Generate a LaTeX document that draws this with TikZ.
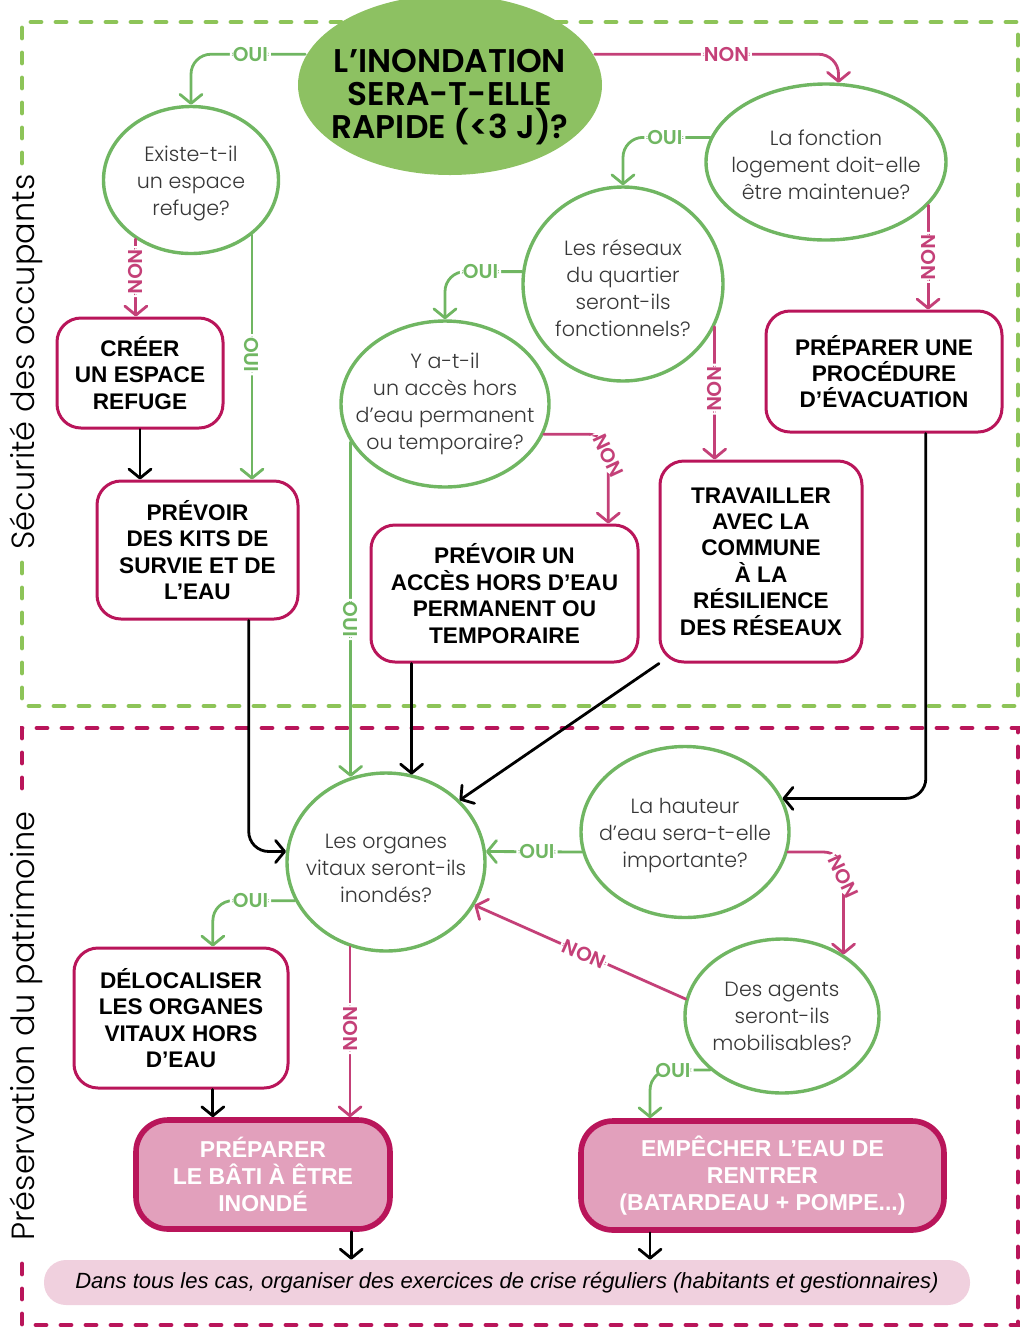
\documentclass[tikz,border=0pt]{standalone}
\usepackage{fontspec}
\usepackage{xcolor}
\setmainfont{Poppins}
\newfontfamily\legerfont{Poppins Light}
\newfontfamily\demifont{Poppins SemiBold}
\newfontfamily\boxfont{Liberation Sans}
\usetikzlibrary{shapes.geometric, arrows.meta}

\definecolor{vertcadre}{RGB}{141,196,88}
\definecolor{vertrond}{RGB}{112,182,98}
\definecolor{vertdepart}{RGB}{141,193,98}
\definecolor{framboise}{RGB}{185,21,90}
\definecolor{rosenon}{RGB}{196,64,120}
\definecolor{rosebox}{RGB}{226,160,188}
\definecolor{rosepale}{RGB}{240,208,222}
\definecolor{gristexte}{RGB}{55,55,55}

\tikzset{
    cadre/.style={line width=2.4pt, line cap=round, dash pattern=on 5pt off 7.5pt},
    cote/.style={rotate=90, font=\legerfont\fontsize{16}{16}\selectfont},
    question/.style={ellipse, draw=vertrond, line width=1.7pt, fill=white, inner sep=0pt},
    qtexte/.style={align=center, text=gristexte, font=\legerfont\fontsize{10.3}{13.5}\selectfont},
    departtexte/.style={align=center, text=black, font=\demifont\fontsize{16.4}{16.5}\selectfont},
    boite/.style={rectangle, rounded corners=12pt, draw=framboise, line width=1.5pt, fill=white,
        align=center, font=\boxfont\bfseries\fontsize{11.3}{13.2}\selectfont},
    action/.style={rectangle, rounded corners=16pt, draw=framboise, line width=2.8pt, fill=rosebox,
        text=white, align=center, font=\boxfont\bfseries\fontsize{11.5}{13.4}\selectfont},
    note/.style={rectangle, rounded corners=11pt, fill=rosepale,
        font=\boxfont\itshape\fontsize{11}{12}\selectfont},
    rep/.style={fill=white, inner sep=1.5pt, font=\demifont\fontsize{10}{10}\selectfont},
    fleche/.style={line width=1.4pt, rounded corners=10pt, line cap=round,
        -{Straight Barb[length=4.5pt, width=11pt, round]}},
    oui/.style={fleche, color=vertrond},
    non/.style={fleche, color=rosenon},
    suite/.style={fleche, color=black}
}

\begin{document}
\begin{tikzpicture}[x=0.5pt, y=-0.5pt]
    \useasboundingbox (0,0) rectangle (1024,1330);

    % zones
    \draw[cadre, vertcadre] (22,163) -- (22,22) -- (1018,22) -- (1018,706) -- (22,706) -- (22,556);
    \draw[cadre, framboise] (22,788) -- (22,728) -- (1018,728) -- (1018,1325) -- (22,1325) -- (22,1252);
    \node[cote] (securite) at (26,362) {Sécurité des occupants};
    \node[cote] (patrimoine) at (26,1026) {Préservation du patrimoine};

    % questions
    \node[question, draw=none, fill=vertdepart, minimum width=152pt, minimum height=90pt,
        label={[departtexte, yshift=-6pt]center:L’INONDATION\\SERA-T-ELLE\\RAPIDE (<3 J)?}] (depart) at (450,85) {};
    \node[question, minimum width=87.5pt, minimum height=73.5pt,
        label={[qtexte, yshift=-2pt]center:Existe-t-il\\un espace\\refuge?}] (existe) at (191,180) {};
    \node[question, minimum width=120pt, minimum height=78pt,
        label={[qtexte, yshift=-1.5pt]center:La fonction\\logement doit-elle\\être maintenue?}] (fonction) at (826,162) {};
    \node[question, minimum width=100pt, minimum height=97pt,
        label={[qtexte, yshift=-2pt]center:Les réseaux\\du quartier\\seront-ils\\fonctionnels?}] (reseaux) at (623,284) {};
    \node[question, minimum width=104pt, minimum height=83pt,
        label={[qtexte]center:Y a-t-il\\un accès hors\\d’eau permanent\\ou temporaire?}] (ya) at (445,404) {};
    \node[question, minimum width=99pt, minimum height=89pt,
        label={[qtexte, yshift=-3pt]center:Les organes\\vitaux seront-ils\\inondés?}] (organes) at (386,862) {};
    \node[question, minimum width=104pt, minimum height=85.5pt,
        label={[qtexte, yshift=-2pt]center:La hauteur\\d’eau sera-t-elle\\importante?}] (hauteur) at (685,832) {};
    \node[question, minimum width=97pt, minimum height=77pt,
        label={[qtexte]center:Des agents\\seront-ils\\mobilisables?}] (agents) at (782,1016) {};

    % actions
    \node[boite, minimum width=83pt, minimum height=55pt] (creer) at (140,373) {CRÉER\\UN ESPACE\\REFUGE};
    \node[boite, minimum width=100.5pt, minimum height=69pt] (kits) at (197.5,550) {PRÉVOIR\\DES KITS DE\\SURVIE ET DE\\L’EAU};
    \node[boite, minimum width=133.5pt, minimum height=68.5pt] (acces) at (504.5,593.5) {PRÉVOIR UN\\ACCÈS HORS D’EAU\\PERMANENT OU\\TEMPORAIRE};
    \node[boite, minimum width=101pt, minimum height=100.5pt] (travail) at (761,561.5) {TRAVAILLER\\AVEC LA\\COMMUNE\\À LA\\RÉSILIENCE\\DES RÉSEAUX};
    \node[boite, minimum width=118pt, minimum height=60.5pt] (evacuation) at (884,371.5) {PRÉPARER UNE\\PROCÉDURE\\D’ÉVACUATION};
    \node[boite, minimum width=107pt, minimum height=70pt] (delocaliser) at (181,1018) {DÉLOCALISER\\LES ORGANES\\VITAUX HORS\\D’EAU};
    \node[action, minimum width=127pt, minimum height=54.5pt] (bati) at (263,1174.5) {PRÉPARER\\LE BÂTI À ÊTRE\\INONDÉ};
    \node[action, minimum width=181.5pt, minimum height=54.5pt] (empecher) at (762.5,1175.5) {EMPÊCHER L’EAU DE\\RENTRER\\(BATARDEAU + POMPE...)};
    \node[note, minimum width=463pt, minimum height=22.5pt] (note) at (507,1282.5) {Dans tous les cas, organiser des exercices de crise réguliers (habitants et gestionnaires)};

    % liens
    \draw[oui] (depart.168) -| node[rep, pos=0.24] {OUI} (existe);
    \draw[non] (depart.12) -| node[rep, pos=0.27] {NON} (fonction.81);
    \draw[non] (existe.227) -- node[rep, rotate=-90, pos=0.42] {NON} (existe.227 |- creer.north);
    \draw[oui] (existe.-42) -- node[rep, rotate=-90, pos=0.49] {OUI} (existe.-42 |- kits.north);
    \draw[suite] (creer.south) -- (creer.south |- kits.north);
    \draw[oui] (fonction.168) -| node[rep, pos=0.26] {OUI} (reseaux);
    \draw[non] (fonction.-23) -- node[rep, rotate=-90] {NON} (fonction.-23 |- evacuation.north);
    \draw[oui] (reseaux.173) -| node[rep, pos=0.27] {OUI} (ya);
    \draw[non] (reseaux.-25) -- node[rep, rotate=-90, pos=0.47] {NON} (reseaux.-25 |- travail.north);
    \draw[non] (ya.-17) -| node[rep, rotate=-65, pos=0.62] {NON} (acces.34);
    \draw[oui] (ya.202) -- node[rep, rotate=-90, pos=0.53] {OUI} (ya.202 |- organes.112);
    \draw[suite] (acces.-143) -- (acces.-143 |- organes.73);
    \draw[suite] (travail.-135) -- (organes.40);
    \draw[suite] (kits.-54) |- (organes.174);
    \draw[suite] (evacuation.-56) |- (hauteur.19);
    \draw[oui] (hauteur.191) -- node[rep, pos=0.47] {OUI} (organes.6);
    \draw[non] (hauteur.-11) -| node[rep, rotate=-65, pos=0.62] {NON} (agents.45.5);
    \draw[non] (agents.170) -- node[rep, sloped, pos=0.48] {NON} (organes.-26);
    \draw[oui] (organes.203) -| node[rep, pos=0.27] {OUI} (delocaliser.66);
    \draw[non] (organes.247) -- node[rep, rotate=-90, pos=0.48] {NON} (organes.247 |- bati.north);
    \draw[suite] (delocaliser.-66) -- (delocaliser.-66 |- bati.north);
    \draw[oui] (agents.217) -| node[rep, pos=0.31] {OUI} (empecher.153);
    \draw[suite] (bati.-33.5) -- (bati.-33.5 |- note.north);
    \draw[suite] (empecher.-153) -- (empecher.-153 |- note.north);
\end{tikzpicture}
\end{document}
